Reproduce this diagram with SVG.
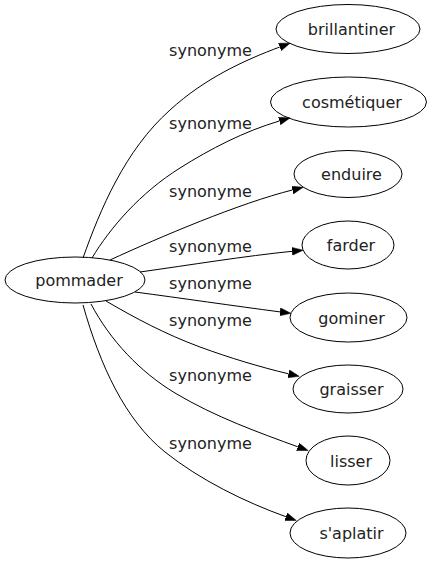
<svg xmlns="http://www.w3.org/2000/svg" width="432" height="563" viewBox="0 0 432 563">
<style>
.node ellipse{fill:none;stroke:#000;stroke-width:1}
.node text{font-family:"DejaVu Sans",Verdana,sans-serif;font-size:16px;fill:#222;text-anchor:middle}
.edge path{fill:none;stroke:#000;stroke-width:1}
.lbl{font-family:"DejaVu Sans",Verdana,sans-serif;font-size:16px;fill:#222;text-anchor:middle}
</style>
<defs>
<marker id="arr" markerUnits="userSpaceOnUse" markerWidth="12" markerHeight="9" refX="0" refY="4" orient="auto">
<path d="M0,0 L11,4 L0,8 z" fill="#000" stroke="#000" stroke-width="0.5"/>
</marker>
</defs>
<g id="edges" class="edge">
<path marker-end="url(#arr)" d="M83,258 C100,210 125,150 170,110 C205,78 245,60 279.8,47"/>
<path marker-end="url(#arr)" d="M92,258 C110,228 140,193 180,168 C210,149 245,131 279.4,121"/>
<path marker-end="url(#arr)" d="M110,260 C160,237 240,203 292.4,190"/>
<path marker-end="url(#arr)" d="M140,272 C190,265 245,256 292.1,251.3"/>
<path marker-end="url(#arr)" d="M135,292 C180,298 235,306 280,311.9"/>
<path marker-end="url(#arr)" d="M106,301 C135,318 165,334 200,347 C230,358 260,367 288.5,373.8"/>
<path marker-end="url(#arr)" d="M91,304 C110,340 140,372 175,393 C215,417 260,433 297.8,446.8"/>
<path marker-end="url(#arr)" d="M83,305 C100,365 125,420 165,452 C200,480 245,502 285.9,516.7"/>
<text class="lbl" x="210.5" y="56">synonyme</text>
<text class="lbl" x="210.5" y="129">synonyme</text>
<text class="lbl" x="210.5" y="197">synonyme</text>
<text class="lbl" x="210.5" y="252">synonyme</text>
<text class="lbl" x="210.5" y="289">synonyme</text>
<text class="lbl" x="210.5" y="326">synonyme</text>
<text class="lbl" x="210.5" y="381">synonyme</text>
<text class="lbl" x="210.5" y="449">synonyme</text>
</g>
<g id="pommader" class="node"><ellipse cx="75" cy="280" rx="70" ry="23"/><text x="79" y="286">pommader</text></g>
<g id="brillantiner" class="node"><ellipse cx="348" cy="29" rx="72" ry="24.5"/><text x="351.5" y="35">brillantiner</text></g>
<g id="cosmetiquer" class="node"><ellipse cx="348.5" cy="102" rx="78" ry="25"/><text x="352" y="108">cosmétiquer</text></g>
<g id="enduire" class="node"><ellipse cx="348" cy="174" rx="54" ry="23.5"/><text x="351.5" y="180">enduire</text></g>
<g id="farder" class="node"><ellipse cx="348" cy="245" rx="46" ry="24"/><text x="351" y="251">farder</text></g>
<g id="gominer" class="node"><ellipse cx="348.5" cy="317.5" rx="58.5" ry="24.5"/><text x="351.5" y="323.5">gominer</text></g>
<g id="graisser" class="node"><ellipse cx="348" cy="389" rx="55" ry="24"/><text x="351.5" y="395">graisser</text></g>
<g id="lisser" class="node"><ellipse cx="348" cy="460.5" rx="42" ry="24.5"/><text x="351" y="466.5">lisser</text></g>
<g id="saplatir" class="node"><ellipse cx="348" cy="533" rx="58" ry="25"/><text x="351.5" y="539">s'aplatir</text></g>
</svg>
